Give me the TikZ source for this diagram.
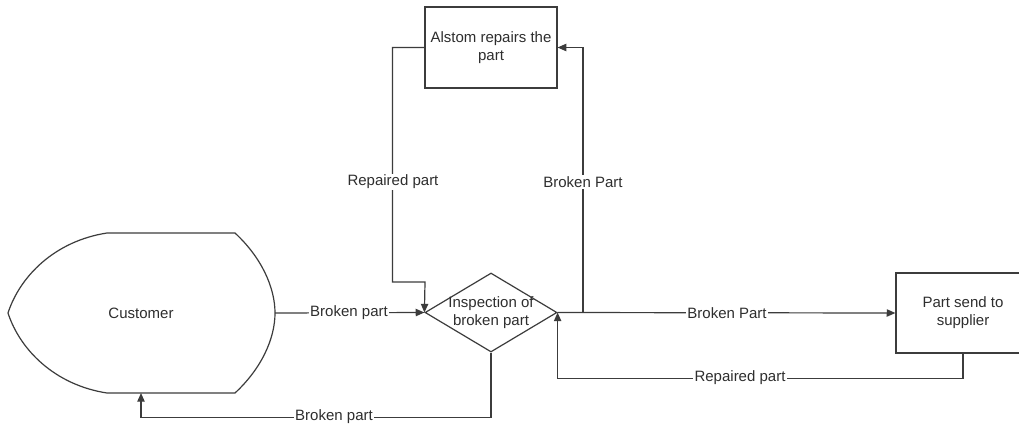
\documentclass[tikz,border=0pt]{standalone}
\usepackage{fontspec}
\setmainfont{Liberation Sans}
\usetikzlibrary{shapes.geometric,arrows.meta}
\definecolor{ink}{HTML}{3C3C3C}
\definecolor{txt}{HTML}{2E2E2E}
\begin{document}
\begin{tikzpicture}[
  x={(0.75pt,0)}, y={(0,-0.75pt)},
  font=\fontsize{11.25pt}{13.5pt}\selectfont,
  every node/.style={text=txt},
  line/.style={draw=ink, line width=0.9pt},
  arr/.style={line, -{Triangle[length=6.5pt,width=5.5pt]}},
  box/.style={line, rectangle, inner sep=0pt, align=center},
  lab/.style={fill=white, inner sep=1pt}
]
\useasboundingbox (0,0) rectangle (1019,425);
\fill[white] (0,0) rectangle (1019,425);

% customer shape: pointed on the left, rounded on the right
\draw[line] (107,233) -- (235,233)
  .. controls (262,258) and (275,288) .. (275,313)
  .. controls (275,338) and (262,368) .. (235,393)
  -- (107,393)
  .. controls (55,385) and (20,350) .. (8,313)
  .. controls (20,276) and (55,241) .. (107,233) -- cycle;
\node (customer) at (141,313) {Customer};
\coordinate (ceast) at (275,313);
\coordinate (cbot) at (141,393);

% process shapes
\node[line, diamond, minimum width=99pt, minimum height=59.25pt, inner sep=0pt] (insp) at (491,312.5) {};
\node[align=center] (insptxt) at (insp) {Inspection of\\broken part};
\node[box, minimum width=99pt, minimum height=60.75pt] (alstom) at (491,47.5) {Alstom repairs the\\part};
\node[box, minimum width=100.5pt, minimum height=60pt] (part) at (963,313) {Part send to\\supplier};

% connectors
\draw[arr] (ceast) -- (insp.west);
\draw[arr] (insp.south) -- ++(0,65) -| (cbot);
\draw[arr] (alstom.west) -- ++(-32,0) |- (425,282) -- (insp.west);
\coordinate (branch) at (583,312.5);
\draw[arr] (insp.east) -- (part.west);
\draw[arr] (branch) |- (alstom.east);
\draw[arr] (part.south) -- ++(0,25) -| (insp.east);

% connector labels
\node[lab] (l1) at (349,313) {Broken part};
\node[lab] (l2) at (334,417) {Broken part};
\node[lab] (l3) at (393,182) {Repaired part};
\node[lab] (l4) at (583,182) {Broken Part};
\node[lab] (l5) at (727,313) {Broken Part};
\node[lab] (l6) at (740,378) {Repaired part};
\end{tikzpicture}
\end{document}
